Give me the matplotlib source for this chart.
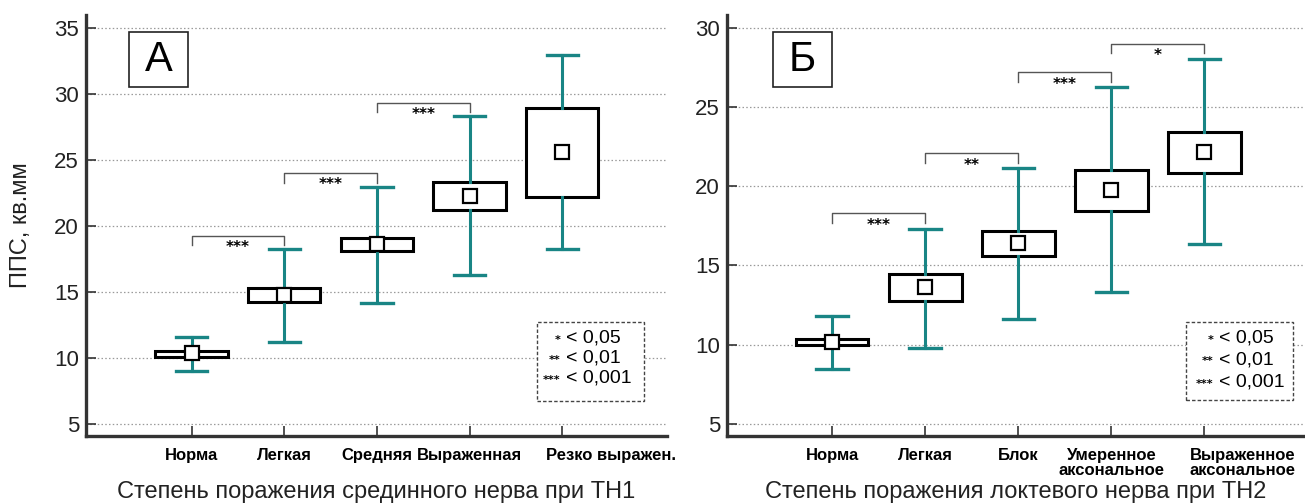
import matplotlib
matplotlib.use("Agg")
import matplotlib.pyplot as plt
from matplotlib.patches import Rectangle
from matplotlib.transforms import ScaledTranslation

plt.rcParams['font.family'] = ['Liberation Sans', 'DejaVu Sans']

# ---- Panel A: median nerve (TN1) ----
cats_a = ["Норма", "Легкая", "Средняя", "Выраженная", "Резко выражен."]
whislo_a = [9.03, 11.23, 14.18, 16.25, 18.27]
q1_a = [10.09, 14.21, 18.12, 21.20, 22.21]
mean_a = [10.35, 14.76, 18.65, 22.31, 25.59]
q3_a = [10.55, 15.32, 19.10, 23.32, 28.92]
whishi_a = [11.56, 18.22, 22.94, 28.36, 32.98]
pairs_a = [(0, 1), (1, 2), (2, 3)]
bracket_y_a = [19.28, 24.02, 29.35]
bracket_lbl_a = ["***", "***", "***"]
yticks_a = [5, 10, 15, 20, 25, 30, 35]
xlabel_a = "Степень поражения срединного нерва при ТН1"

# ---- Panel B: ulnar nerve (TN2) ----
cats_b = ["Норма", "Легкая", "Блок", "Умеренное\nаксональное", "Выраженное\nаксональное"]
whislo_b = [8.47, 9.81, 11.64, 13.30, 16.33]
q1_b = [9.96, 12.78, 15.62, 18.46, 20.85]
mean_b = [10.17, 13.62, 16.40, 19.76, 22.16]
q3_b = [10.34, 14.44, 17.20, 21.02, 23.44]
whishi_b = [11.81, 17.32, 21.13, 26.24, 28.02]
pairs_b = [(0, 1), (1, 2), (2, 3), (3, 4)]
bracket_y_b = [18.29, 22.07, 27.18, 28.99]
bracket_lbl_b = ["***", "**", "***", "*"]
yticks_b = [5, 10, 15, 20, 25, 30]
xlabel_b = "Степень поражения локтевого нерва при ТН2"

legend_stars = ["*", "**", "***"]
legend_p = ["< 0,05", "< 0,01", "< 0,001"]

TEAL = "#198585"
SPINE = "#333333"
STAR_FONT = ['DejaVu Sans']

fig = plt.figure(figsize=(13.05, 5.04), dpi=100)
ax_a = fig.add_axes([0.0659, 0.135, 0.4452, 0.835])
ax_b = fig.add_axes([0.5571, 0.135, 0.4429, 0.835])


def draw_panel(ax, cats, lo, q1, mean, q3, hi, pairs, by, blbl, yticks, ylim, xlim,
               xlabel, letter, letter_box, legend_box, legend_rows, legend_x,
               last_label_shift, last_label_ha):
    stats = []
    for c, a, b, m, d, e in zip(cats, lo, q1, mean, q3, hi):
        stats.append(dict(label=c, whislo=a, q1=b, med=m, mean=m, q3=d, whishi=e, fliers=[]))
    pos = list(range(len(cats)))
    ax.bxp(stats, positions=pos, widths=0.78, capwidths=0.34, showmeans=True,
           patch_artist=True, manage_ticks=False, zorder=3,
           boxprops=dict(facecolor="white", edgecolor="black", linewidth=2.2),
           whiskerprops=dict(color=TEAL, linewidth=2.2),
           capprops=dict(color=TEAL, linewidth=2.4),
           medianprops=dict(linewidth=0, color="none"),
           meanprops=dict(marker="s", markersize=9.5, markerfacecolor="white",
                          markeredgecolor="black", markeredgewidth=1.6))

    ax.set_xlim(*xlim)
    ax.set_ylim(*ylim)
    ax.set_yticks(yticks)
    ax.set_yticklabels([str(t) for t in yticks], fontsize=16, color="#222222")
    ax.set_xticks(pos)
    ax.set_xticklabels(cats, fontsize=12, fontweight="bold", linespacing=0.95)
    ax.tick_params(axis="both", direction="in", length=7, width=1.2, color=SPINE)
    ax.tick_params(axis="x", pad=9)
    ax.tick_params(axis="y", pad=5)
    # the last category label is moved sideways so it does not collide with its neighbour
    last = ax.get_xticklabels()[-1]
    last.set_ha(last_label_ha)
    last.set_transform(last.get_transform() +
                       ScaledTranslation(last_label_shift / 100, 0, fig.dpi_scale_trans))
    ax.grid(axis="y", linestyle=(0, (1.2, 1.8)), color="#9a9a9a", linewidth=0.9, zorder=0)
    ax.set_axisbelow(True)
    for s in ("top", "right"):
        ax.spines[s].set_visible(False)
    for s in ("left", "bottom"):
        ax.spines[s].set_linewidth(2.4)
        ax.spines[s].set_color(SPINE)
    ax.set_xlabel(xlabel, fontsize=17, color="#222222")
    ax.xaxis.set_label_coords(0.5, -0.133)
    ax.xaxis.label.set_va("center")

    drop = 0.023 * (ylim[1] - ylim[0])
    for (i, j), y, lbl in zip(pairs, by, blbl):
        ax.plot([i, i, j, j], [y - drop, y, y, y - drop], color="#555555",
                linewidth=1.0, zorder=2)
        ax.text((i + j) / 2, y - drop * 0.45, lbl, ha="center", va="top",
                fontsize=11, fontweight="bold", family=STAR_FONT, zorder=4)

    x0, x1, y0, y1 = letter_box
    ax.add_patch(Rectangle((x0, y0), x1 - x0, y1 - y0, transform=ax.transAxes,
                           facecolor="white", edgecolor="#222222", linewidth=1.2, zorder=5))
    ax.text((x0 + x1) / 2, (y0 + y1) / 2, letter, transform=ax.transAxes,
            ha="center", va="center", fontsize=30, zorder=6)

    lx0, lx1, ly0, ly1 = legend_box
    ax.add_patch(Rectangle((lx0, ly0), lx1 - lx0, ly1 - ly0, transform=ax.transAxes,
                           facecolor="white", edgecolor="#444444", linewidth=1.0,
                           linestyle=(0, (2.5, 1.5)), zorder=5))
    for st, p, yy in zip(legend_stars, legend_p, legend_rows):
        ax.text(legend_x - 0.009, yy - 0.004, st, transform=ax.transAxes, ha="right",
                va="center", fontsize=8, fontweight="bold", family=STAR_FONT, zorder=6)
        ax.text(legend_x, yy, p, transform=ax.transAxes, ha="left", va="center",
                fontsize=14, zorder=6)


draw_panel(ax_a, cats_a, whislo_a, q1_a, mean_a, q3_a, whishi_a,
           pairs_a, bracket_y_a, bracket_lbl_a, yticks_a, (4.09, 35.98), (-1.14, 5.13),
           xlabel_a, "А", (0.074, 0.176, 0.829, 0.960),
           (0.776, 0.960, 0.083, 0.271), [0.233, 0.185, 0.138], 0.826,
           -16, "left")

draw_panel(ax_b, cats_b, whislo_b, q1_b, mean_b, q3_b, whishi_b,
           pairs_b, bracket_y_b, bracket_lbl_b, yticks_b, (4.24, 30.8), (-1.13, 5.08),
           xlabel_b, "Б", (0.0796, 0.1817, 0.829, 0.960),
           (0.794, 0.979, 0.086, 0.271), [0.233, 0.181, 0.128], 0.851,
           38, "center")

ax_a.set_ylabel("ППС, кв.мм", fontsize=17, color="#222222")
ax_a.yaxis.set_label_coords(-0.112, 0.5)
ax_a.yaxis.label.set_va("center")

fig.savefig("out.png", dpi=100)
